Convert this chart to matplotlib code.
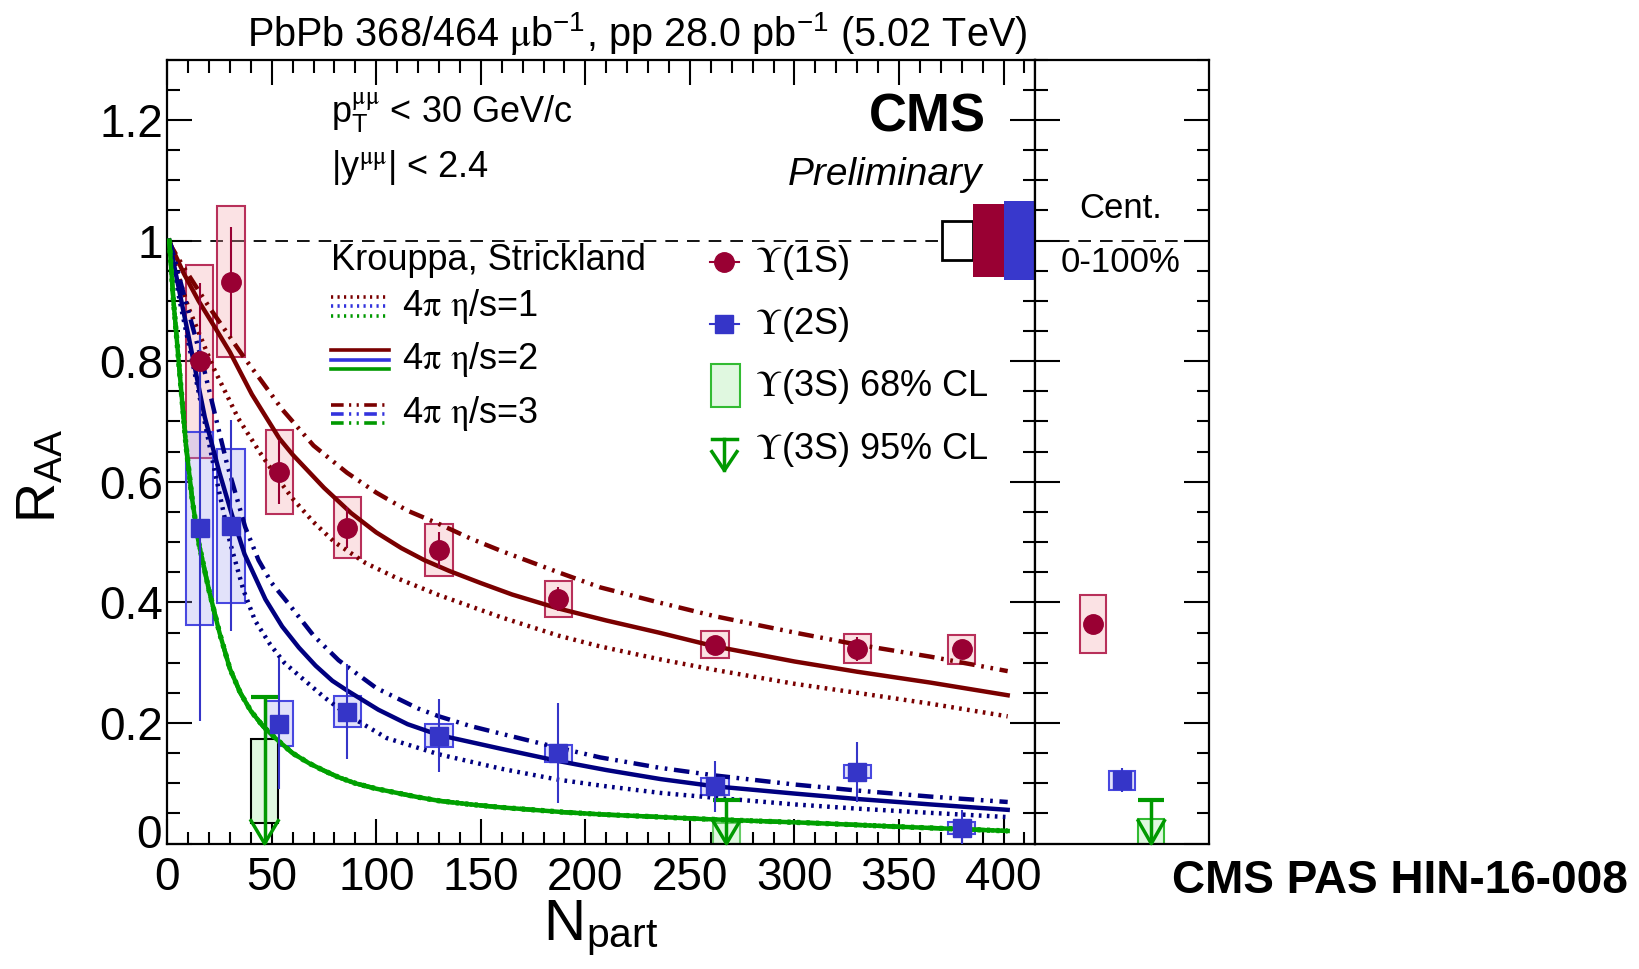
import numpy as np
import matplotlib
matplotlib.use("Agg")
import matplotlib.pyplot as plt
from matplotlib.patches import Rectangle
from matplotlib.lines import Line2D
from matplotlib.ticker import MultipleLocator, FuncFormatter

plt.rcParams['font.family'] = ['Liberation Sans', 'DejaVu Sans']
plt.rcParams['mathtext.fontset'] = 'stix'

# --- measured points (centrality bins) ---
npart = [15.5, 30.5, 53.6, 86.2, 130.0, 187.0, 262.0, 330.0, 380.0]

raa_1s = [0.800, 0.932, 0.616, 0.524, 0.487, 0.405, 0.330, 0.323, 0.322]
stat_1s = [0.13, 0.09, 0.053, 0.034, 0.03, 0.02, 0.015, 0.02, 0.015]
syst_1s = [0.16, 0.125, 0.07, 0.05, 0.043, 0.03, 0.022, 0.024, 0.024]

raa_2s = [0.523, 0.527, 0.199, 0.219, 0.179, 0.150, 0.095, 0.119, 0.026]
stat_2s = [0.32, 0.175, 0.108, 0.078, 0.06, 0.083, 0.042, 0.05, 0.03]
syst_2s = [0.16, 0.128, 0.037, 0.025, 0.019, 0.014, 0.014, 0.011, 0.01]

npart_3s = [46.6, 267.5]
lim68_lo_3s = [0.034, 0.0]
lim68_hi_3s = [0.173, 0.034]
lim95_3s = [0.243, 0.073]

# centrality integrated 0-100%
int_1s, int_stat_1s, int_syst_1s = 0.364, 0.01, 0.048
int_2s, int_stat_2s, int_syst_2s = 0.105, 0.02, 0.016
int_lim68_3s = (0.0, 0.041)
int_lim95_3s = 0.072

# global uncertainties at unity
glob_pp = 0.032
glob_1s = 0.061
glob_2s = 0.065

# --- Krouppa, Strickland model curves ---
th_1s_eta1_x = [1, 2, 10, 22, 34, 45, 53, 60, 70, 80, 95, 110, 130, 160, 187, 207, 235, 262, 300, 330, 365, 402]
th_1s_eta1_y = [1.0, 0.98, 0.89, 0.79, 0.705, 0.645, 0.605, 0.572, 0.533, 0.5, 0.465, 0.44, 0.412, 0.375, 0.345,
                0.327, 0.306, 0.288, 0.265, 0.25, 0.232, 0.211]
th_1s_eta2_x = [1, 2, 8, 15, 23, 30, 40.5, 53.6, 60, 75, 88, 100, 112, 123, 135, 150, 165, 187, 210, 235, 262,
                300, 330, 365, 402]
th_1s_eta2_y = [1.0, 0.99, 0.945, 0.9, 0.855, 0.815, 0.745, 0.672, 0.645, 0.59, 0.548, 0.516, 0.49, 0.47, 0.452,
                0.432, 0.413, 0.39, 0.37, 0.35, 0.327, 0.302, 0.285, 0.267, 0.246]
th_1s_eta3_x = [1, 2, 8, 20, 37, 44.5, 55, 70, 86, 100, 115, 130, 145, 160, 187, 207, 235, 262, 300, 330, 365, 402]
th_1s_eta3_y = [1.0, 0.99, 0.955, 0.89, 0.805, 0.77, 0.72, 0.66, 0.615, 0.582, 0.552, 0.53, 0.506, 0.485, 0.45,
                0.425, 0.40, 0.377, 0.35, 0.33, 0.31, 0.286]

th_2s_eta1_x = [1, 2, 6, 12.6, 22.6, 30, 36.5, 42, 49.3, 56, 63.6, 75, 86, 105, 130, 160, 187, 210, 236, 262, 300,
                330, 365, 402]
th_2s_eta1_y = [1.0, 0.98, 0.9, 0.79, 0.62, 0.5, 0.42, 0.37, 0.33, 0.3, 0.277, 0.243, 0.214, 0.175, 0.148, 0.124,
                0.106, 0.095, 0.084, 0.076, 0.065, 0.058, 0.051, 0.044]
th_2s_eta2_x = [1, 1.5, 5, 10, 18, 25, 31, 37, 47, 55, 63, 71, 79, 86, 101, 115, 130, 160, 187, 210, 236, 262,
                300, 330, 365, 402]
th_2s_eta2_y = [1.0, 0.99, 0.93, 0.845, 0.707, 0.615, 0.545, 0.48, 0.405, 0.36, 0.325, 0.295, 0.27, 0.254, 0.222,
                0.198, 0.18, 0.157, 0.137, 0.122, 0.107, 0.095, 0.083, 0.074, 0.065, 0.056]
th_2s_eta3_x = [1, 2, 8, 17.4, 28.5, 37.3, 43.7, 50, 58, 70, 82, 100, 120, 130, 145, 160, 187, 207, 235, 262, 300,
                330, 365, 402]
th_2s_eta3_y = [1.0, 0.99, 0.91, 0.79, 0.631, 0.525, 0.47, 0.432, 0.398, 0.345, 0.304, 0.258, 0.224, 0.211, 0.195,
                0.182, 0.159, 0.143, 0.126, 0.113, 0.098, 0.088, 0.078, 0.069]

th_3s_x = [1, 3, 6, 9, 12, 15, 20, 25, 30, 35, 40, 46, 52, 60, 68, 75, 82, 90, 100, 110, 120, 130, 145, 160, 175,
           190, 210, 230, 255, 270, 310, 350, 402]
th_3s_y = [1.0, 0.9, 0.78, 0.66, 0.57, 0.5, 0.42, 0.35, 0.29, 0.25, 0.22, 0.194, 0.174, 0.15, 0.133, 0.121, 0.11,
           0.1, 0.091, 0.084, 0.077, 0.071, 0.065, 0.06, 0.056, 0.052, 0.048, 0.045, 0.041, 0.039, 0.034, 0.028,
           0.021]

c1s = '#990033'
c2s = '#3535c8'
c3s = '#009900'
c1s_th = '#7a0000'
c2s_th = '#000080'
c3s_th = '#00a000'

fig = plt.figure(figsize=(16.39, 9.69), dpi=100)
ax = fig.add_axes([0.1020, 0.1294, 0.5294, 0.8091])
axs = fig.add_axes([0.6314, 0.1294, 0.1065, 0.8091])

for a in (ax, axs):
    for sp in a.spines.values():
        sp.set_linewidth(1.6)
    a.set_ylim(0, 1.3)
    a.yaxis.set_major_locator(MultipleLocator(0.2))
    a.yaxis.set_minor_locator(MultipleLocator(0.05))

ax.set_xlim(0, 415)
ax.xaxis.set_major_locator(MultipleLocator(50))
ax.xaxis.set_minor_locator(MultipleLocator(10))
ax.tick_params(which='both', direction='in', top=True, right=True, width=1.5, labelsize=33)
ax.tick_params(which='major', length=18)
ax.tick_params(which='minor', length=9)
ax.tick_params(axis='x', pad=9)
ax.tick_params(axis='y', pad=3)
ax.xaxis.set_major_formatter(FuncFormatter(lambda v, p: '%g' % round(v, 2)))
# the zero of the y axis is written by hand, nudged up off the x-axis zero
ax.yaxis.set_major_formatter(FuncFormatter(lambda v, p: '' if abs(v) < 1e-9 else '%g' % round(v, 2)))
ax.text(-0.006, 0.013, '0', transform=ax.get_yaxis_transform(), ha='right', va='center', fontsize=33)

axs.set_xlim(0, 1)
axs.set_xticks([])
axs.tick_params(which='both', direction='in', left=True, right=True, labelleft=False, width=1.5)
axs.tick_params(which='major', length=18)
axs.tick_params(which='minor', length=9)

# unity reference
ax.axhline(1.0, color='black', lw=1.3, dashes=(7, 5), zorder=1)
axs.axhline(1.0, color='black', lw=1.3, dashes=(7, 5), zorder=1)

hw = 6.5  # half width of systematic boxes in Npart

# systematic boxes
for x, y, s in zip(npart, raa_1s, syst_1s):
    ax.add_patch(Rectangle((x - hw, y - s), 2 * hw, 2 * s, facecolor='#f4a0a8', alpha=0.3, lw=0, zorder=2))
    ax.add_patch(Rectangle((x - hw, y - s), 2 * hw, 2 * s, facecolor='none', edgecolor='#b8305a', lw=1.5,
                           zorder=2))
for x, y, s in zip(npart, raa_2s, syst_2s):
    ax.add_patch(Rectangle((x - hw, y - s), 2 * hw, 2 * s, facecolor='#a0a0f0', alpha=0.3, lw=0, zorder=2))
    ax.add_patch(Rectangle((x - hw, y - s), 2 * hw, 2 * s, facecolor='none', edgecolor='#4848e0', lw=1.5,
                           zorder=2))

# Upsilon(3S) limits
for i, (x, lo, hi, up) in enumerate(zip(npart_3s, lim68_lo_3s, lim68_hi_3s, lim95_3s)):
    edge = 'black' if i == 0 else '#66cc66'
    ax.add_patch(Rectangle((x - hw, lo), 2 * hw, hi - lo, facecolor='#e0f8e0', edgecolor=edge, lw=1.5, zorder=2))
    ax.plot([x, x], [0, up], color=c3s, lw=2.5, zorder=5, solid_capstyle='butt')
    ax.plot([x - hw, x + hw], [up, up], color=c3s, lw=3, zorder=5, solid_capstyle='butt')
    ax.plot([x - hw, x, x + hw], [0.038, 0.0, 0.038], color=c3s, lw=2.5, zorder=5, clip_on=False)

# model curves
dotted = (0, (0.6, 1.2))
dashdot = (0, (3.5, 1.5, 0.6, 1.5, 0.6, 1.5))
ax.plot(th_1s_eta1_x, th_1s_eta1_y, color=c1s_th, lw=3.2, ls=dotted, zorder=3)
ax.plot(th_1s_eta2_x, th_1s_eta2_y, color=c1s_th, lw=3.2, zorder=3)
ax.plot(th_1s_eta3_x, th_1s_eta3_y, color=c1s_th, lw=3.2, ls=dashdot, zorder=3)
ax.plot(th_2s_eta1_x, th_2s_eta1_y, color=c2s_th, lw=3.2, ls=dotted, zorder=3)
ax.plot(th_2s_eta2_x, th_2s_eta2_y, color=c2s_th, lw=3.2, zorder=3)
ax.plot(th_2s_eta3_x, th_2s_eta3_y, color=c2s_th, lw=3.2, ls=dashdot, zorder=3)
ax.plot(th_3s_x, th_3s_y, color=c3s_th, lw=3.8, ls=dotted, zorder=3)
ax.plot(th_3s_x, th_3s_y, color=c3s_th, lw=3.2, zorder=3)
ax.plot(th_3s_x, th_3s_y, color=c3s_th, lw=3.2, ls=dashdot, zorder=3)

# data points with statistical errors
ax.errorbar(npart, raa_1s, yerr=stat_1s, fmt='o', color=c1s, ms=14, elinewidth=1.5, capsize=0, zorder=6)
lo_2s = [min(s, y) for y, s in zip(raa_2s, stat_2s)]
ax.errorbar(npart, raa_2s, yerr=[lo_2s, stat_2s], fmt='s', color=c2s, ms=13, elinewidth=1.5, capsize=0, zorder=6)

# global uncertainty boxes at unity
ax.add_patch(Rectangle((370.5, 1 - glob_pp), 15, 2 * glob_pp, facecolor='white', edgecolor='black', lw=2,
                       zorder=4))
ax.add_patch(Rectangle((385.5, 1 - glob_1s), 14.9, 2 * glob_1s, facecolor=c1s, lw=0, zorder=4))
ax.add_patch(Rectangle((400.4, 1 - glob_2s), 14.6, 2 * glob_2s, facecolor='#3838cc', lw=0, zorder=4))

# centrality-integrated panel
shw = 0.075
axs.add_patch(Rectangle((0.333 - shw, int_1s - int_syst_1s), 2 * shw, 2 * int_syst_1s, facecolor='#f4a0a8',
                        alpha=0.3, lw=0, zorder=2))
axs.add_patch(Rectangle((0.333 - shw, int_1s - int_syst_1s), 2 * shw, 2 * int_syst_1s, facecolor='none',
                        edgecolor='#b8305a', lw=1.5, zorder=2))
axs.add_patch(Rectangle((0.5 - shw, int_2s - int_syst_2s), 2 * shw, 2 * int_syst_2s, facecolor='#a0a0f0',
                        alpha=0.3, lw=0, zorder=2))
axs.add_patch(Rectangle((0.5 - shw, int_2s - int_syst_2s), 2 * shw, 2 * int_syst_2s, facecolor='none',
                        edgecolor='#4848e0', lw=1.5, zorder=2))
axs.errorbar([0.333], [int_1s], yerr=[int_stat_1s], fmt='o', color=c1s, ms=14, elinewidth=1.5, zorder=6)
axs.errorbar([0.5], [int_2s], yerr=[int_stat_2s], fmt='s', color=c2s, ms=13, elinewidth=1.5, zorder=6)
axs.add_patch(Rectangle((0.667 - shw, int_lim68_3s[0]), 2 * shw, int_lim68_3s[1] - int_lim68_3s[0],
                        facecolor='#e0f8e0', edgecolor='#33bb33', lw=1.5, zorder=2))
axs.plot([0.667, 0.667], [0, int_lim95_3s], color=c3s, lw=2.5, zorder=5)
axs.plot([0.667 - shw, 0.667 + shw], [int_lim95_3s] * 2, color=c3s, lw=3, zorder=5, solid_capstyle='butt')
axs.plot([0.667 - shw, 0.667, 0.667 + shw], [0.038, 0.0, 0.038], color=c3s, lw=2.5, zorder=5, clip_on=False)
axs.text(0.491, 0.8107, 'Cent.', transform=axs.transAxes, ha='center', va='center', fontsize=25)
axs.text(0.491, 0.7413, '0-100%', transform=axs.transAxes, ha='center', va='center', fontsize=25)

# text labels
T = ax.transAxes
ax.text(0.189, 0.932, r'p$_{\mathregular{T}}^{\mathrm{\mu\mu}}$ < 30 GeV/c', transform=T, ha='left',
        va='center', fontsize=26)
ax.text(0.189, 0.8627, r'|y$^{\mathrm{\mu\mu}}$| < 2.4', transform=T, ha='left', va='center', fontsize=26)
ax.text(0.9434, 0.9267, 'CMS', transform=T, ha='right', va='center', fontsize=38, fontweight='bold')
ax.text(0.9398, 0.8533, 'Preliminary', transform=T, ha='right', va='center', fontsize=28, style='italic')

# model legend
ax.text(0.189, 0.744, 'Krouppa, Strickland', transform=T, ha='left', va='center', fontsize=26)
rows = [0.6853, 0.6173, 0.548]
leg_styles = [dotted, '-', dashdot]
leg_cols = [c1s_th, '#3333dd', c3s]
for k, (st, yc) in enumerate(zip(leg_styles, rows)):
    for j, col in enumerate(leg_cols):
        yy = yc + (1 - j) * 0.012
        ax.add_line(Line2D([0.189, 0.2554], [yy, yy], transform=T, color=col, lw=2.6, ls=st))
    ax.text(0.2711, yc, r'4$\mathrm{\pi}$ $\mathrm{\eta}$/s=%d' % (k + 1), transform=T, ha='left', va='center',
            fontsize=26)

# data legend
lx, tx = 0.6422, 0.6771
ax.add_line(Line2D([lx - 0.017, lx + 0.017], [0.7413, 0.7413], transform=T, color=c1s, lw=1.5))
ax.add_line(Line2D([lx], [0.7413], transform=T, color=c1s, marker='o', ms=14))
ax.text(tx, 0.7413, r'$\Upsilon$(1S)', transform=T, ha='left', va='center', fontsize=26)
ax.add_line(Line2D([lx - 0.017, lx + 0.017], [0.6627, 0.6627], transform=T, color=c2s, lw=1.5))
ax.add_line(Line2D([lx], [0.6627], transform=T, color=c2s, marker='s', ms=13))
ax.text(tx, 0.6627, r'$\Upsilon$(2S)', transform=T, ha='left', va='center', fontsize=26)
ax.add_patch(Rectangle((0.6265, 0.5573), 0.0337, 0.0547, transform=T, facecolor='#e0f8e0', edgecolor='#33bb33',
                       lw=1.5))
ax.text(tx, 0.5827, r'$\Upsilon$(3S) 68% CL', transform=T, ha='left', va='center', fontsize=26)
ax.add_line(Line2D([lx, lx], [0.516, 0.476], transform=T, color=c3s, lw=2.5))
ax.add_line(Line2D([lx - 0.0145, lx + 0.0145], [0.516, 0.516], transform=T, color=c3s, lw=2.5))
ax.add_line(Line2D([lx - 0.0145, lx, lx + 0.0145], [0.5, 0.476, 0.5], transform=T, color=c3s, lw=2.5))
ax.text(tx, 0.5027, r'$\Upsilon$(3S) 95% CL', transform=T, ha='left', va='center', fontsize=26)

# figure-level labels
fig.text(0.389, 0.9655,
         r'PbPb 368/464 $\mathrm{\mu}$b$^{\mathregular{-1}}$, pp 28.0 pb$^{\mathregular{-1}}$ (5.02 TeV)',
         ha='center', va='center', fontsize=28.5)
fig.text(0.993, 0.0906, 'CMS PAS HIN-16-008', ha='right', va='center', fontsize=33, fontweight='bold')
fig.text(0.0255, 0.509, r'R$_{\mathregular{AA}}$', ha='center', va='center', rotation=90, fontsize=40)
fig.text(0.3667, 0.042, r'N$_{\mathregular{part}}$', ha='center', va='center', fontsize=42)

fig.savefig('out.png', dpi=100)
